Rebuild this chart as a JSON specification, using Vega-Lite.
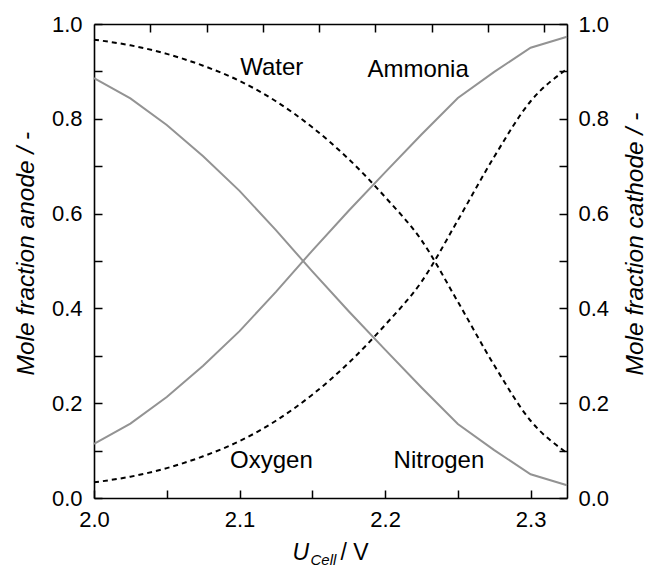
{
  "$schema": "https://vega.github.io/schema/vega-lite/v6.json",
  "width": 473,
  "height": 474,
  "autosize": {"type": "none"},
  "padding": {"left": 94, "top": 24, "right": 79, "bottom": 68},
  "background": "white",
  "config": {
    "view": {"stroke": null},
    "font": "Liberation Sans",
    "axis": {
      "domainColor": "black",
      "domainWidth": 1.6,
      "tickColor": "black",
      "tickWidth": 1.5,
      "tickSize": -8,
      "labelFont": "Liberation Sans",
      "labelFontSize": 22,
      "labelColor": "black",
      "labelFlush": false,
      "labelOverlap": false,
      "titleFont": "Liberation Sans",
      "titleColor": "black",
      "titleFontWeight": "normal",
      "grid": false
    }
  },
  "datasets": {
    "solid": [
      {"x": 2.0, "y": 0.114, "s": "Ammonia"},
      {"x": 2.025, "y": 0.157, "s": "Ammonia"},
      {"x": 2.05, "y": 0.213, "s": "Ammonia"},
      {"x": 2.075, "y": 0.279, "s": "Ammonia"},
      {"x": 2.1, "y": 0.352, "s": "Ammonia"},
      {"x": 2.125, "y": 0.435, "s": "Ammonia"},
      {"x": 2.15, "y": 0.522, "s": "Ammonia"},
      {"x": 2.175, "y": 0.606, "s": "Ammonia"},
      {"x": 2.2, "y": 0.687, "s": "Ammonia"},
      {"x": 2.225, "y": 0.767, "s": "Ammonia"},
      {"x": 2.25, "y": 0.844, "s": "Ammonia"},
      {"x": 2.275, "y": 0.899, "s": "Ammonia"},
      {"x": 2.3, "y": 0.95, "s": "Ammonia"},
      {"x": 2.325, "y": 0.973, "s": "Ammonia"},
      {"x": 2.0, "y": 0.886, "s": "Nitrogen"},
      {"x": 2.025, "y": 0.843, "s": "Nitrogen"},
      {"x": 2.05, "y": 0.787, "s": "Nitrogen"},
      {"x": 2.075, "y": 0.721, "s": "Nitrogen"},
      {"x": 2.1, "y": 0.648, "s": "Nitrogen"},
      {"x": 2.125, "y": 0.565, "s": "Nitrogen"},
      {"x": 2.15, "y": 0.478, "s": "Nitrogen"},
      {"x": 2.175, "y": 0.394, "s": "Nitrogen"},
      {"x": 2.2, "y": 0.313, "s": "Nitrogen"},
      {"x": 2.225, "y": 0.233, "s": "Nitrogen"},
      {"x": 2.25, "y": 0.156, "s": "Nitrogen"},
      {"x": 2.275, "y": 0.101, "s": "Nitrogen"},
      {"x": 2.3, "y": 0.05, "s": "Nitrogen"},
      {"x": 2.325, "y": 0.027, "s": "Nitrogen"}
    ],
    "dashed": [
      {"x": 2.0, "y": 0.967, "s": "Water"},
      {"x": 2.025, "y": 0.955, "s": "Water"},
      {"x": 2.05, "y": 0.937, "s": "Water"},
      {"x": 2.075, "y": 0.912, "s": "Water"},
      {"x": 2.1, "y": 0.88, "s": "Water"},
      {"x": 2.125, "y": 0.837, "s": "Water"},
      {"x": 2.15, "y": 0.782, "s": "Water"},
      {"x": 2.175, "y": 0.715, "s": "Water"},
      {"x": 2.2, "y": 0.635, "s": "Water"},
      {"x": 2.225, "y": 0.544, "s": "Water"},
      {"x": 2.25, "y": 0.414, "s": "Water"},
      {"x": 2.275, "y": 0.28, "s": "Water"},
      {"x": 2.3, "y": 0.163, "s": "Water"},
      {"x": 2.325, "y": 0.095, "s": "Water"},
      {"x": 2.0, "y": 0.033, "s": "Oxygen"},
      {"x": 2.025, "y": 0.045, "s": "Oxygen"},
      {"x": 2.05, "y": 0.063, "s": "Oxygen"},
      {"x": 2.075, "y": 0.088, "s": "Oxygen"},
      {"x": 2.1, "y": 0.12, "s": "Oxygen"},
      {"x": 2.125, "y": 0.163, "s": "Oxygen"},
      {"x": 2.15, "y": 0.218, "s": "Oxygen"},
      {"x": 2.175, "y": 0.285, "s": "Oxygen"},
      {"x": 2.2, "y": 0.365, "s": "Oxygen"},
      {"x": 2.225, "y": 0.456, "s": "Oxygen"},
      {"x": 2.25, "y": 0.586, "s": "Oxygen"},
      {"x": 2.275, "y": 0.72, "s": "Oxygen"},
      {"x": 2.3, "y": 0.837, "s": "Oxygen"},
      {"x": 2.325, "y": 0.905, "s": "Oxygen"}
    ],
    "labelsTop": [
      {"x": 2.1221, "y": 0.8925, "t": "Water"},
      {"x": 2.2227, "y": 0.889, "t": "Ammonia"}
    ],
    "labelsBottom": [
      {"x": 2.1219, "y": 0.0636, "t": "Oxygen"},
      {"x": 2.237, "y": 0.0636, "t": "Nitrogen"}
    ]
  },
  "layer": [
    {
      "data": {"name": "solid"},
      "mark": {"type": "line", "color": "#939393", "strokeWidth": 2},
      "encoding": {
        "x": {
          "field": "x", "type": "quantitative",
          "scale": {"domain": [2.0, 2.325], "nice": false, "zero": false},
          "axis": {
            "orient": "bottom",
            "values": [2.0, 2.05, 2.1, 2.15, 2.2, 2.25, 2.3],
            "labelExpr": "abs(datum.value*10 - round(datum.value*10)) < 0.001 ? format(datum.value, '.1f') : ''",
            "labelPadding": 19,
            "title": "U",
            "titleFontStyle": "italic",
            "titleFontSize": 23,
            "titleAlign": "left",
            "titleBaseline": "alphabetic",
            "titleX": 198,
            "titleY": 61
          }
        },
        "y": {
          "field": "y", "type": "quantitative",
          "scale": {"domain": [0, 1], "nice": false},
          "axis": {
            "orient": "left",
            "values": [0, 0.1, 0.2, 0.3, 0.4, 0.5, 0.6, 0.7, 0.8, 0.9, 1.0],
            "labelExpr": "round(datum.value*10) % 2 == 0 ? format(datum.value, '.1f') : ''",
            "labelPadding": 20,
            "title": "Mole fraction anode / -",
            "titleFontStyle": "italic",
            "titleFontSize": 24.5,
            "titleAngle": -90,
            "titleAlign": "left",
            "titleBaseline": "alphabetic",
            "titleX": -61,
            "titleY": 351
          }
        },
        "detail": {"field": "s", "type": "nominal"}
      }
    },
    {
      "data": {"name": "dashed"},
      "mark": {"type": "line", "color": "black", "strokeWidth": 2, "strokeDash": [5, 4], "interpolate": "monotone"},
      "encoding": {
        "x": {
          "field": "x", "type": "quantitative",
          "scale": {"domain": [2.0, 2.325], "nice": false, "zero": false},
          "axis": {
            "orient": "top",
            "values": [2.0387, 2.0773, 2.116, 2.1546, 2.1933, 2.232, 2.2706, 2.3093],
            "labels": false,
            "title": null
          }
        },
        "y": {
          "field": "y", "type": "quantitative",
          "scale": {"domain": [0, 1], "nice": false},
          "axis": {
            "orient": "right",
            "values": [0, 0.1, 0.2, 0.3, 0.4, 0.5, 0.6, 0.7, 0.8, 0.9, 1.0],
            "labelExpr": "round(datum.value*10) % 2 == 0 ? format(datum.value, '.1f') : ''",
            "labelPadding": 19,
            "title": "Mole fraction cathode / -",
            "titleFontStyle": "italic",
            "titleFontSize": 24.5,
            "titleAngle": -90,
            "titleAlign": "left",
            "titleBaseline": "alphabetic",
            "titleX": 75,
            "titleY": 351
          }
        },
        "detail": {"field": "s", "type": "nominal"}
      }
    },
    {
      "data": {"name": "labelsTop"},
      "mark": {"type": "text", "fontSize": 24, "align": "center", "baseline": "alphabetic", "color": "black", "font": "Liberation Sans"},
      "encoding": {
        "x": {
          "field": "x", "type": "quantitative",
          "scale": {"domain": [2.0, 2.325], "nice": false, "zero": false},
          "axis": {
            "orient": "bottom",
            "domain": false, "ticks": false, "labels": false,
            "title": "Cell",
            "titleFontStyle": "italic",
            "titleFontSize": 15,
            "titleAlign": "left",
            "titleBaseline": "alphabetic",
            "titleX": 216,
            "titleY": 66
          }
        },
        "y": {"field": "y", "type": "quantitative", "scale": {"domain": [0, 1], "nice": false}, "axis": null},
        "text": {"field": "t", "type": "nominal"}
      }
    },
    {
      "data": {"name": "labelsBottom"},
      "mark": {"type": "text", "fontSize": 24, "align": "center", "baseline": "alphabetic", "color": "black", "font": "Liberation Sans"},
      "encoding": {
        "x": {
          "field": "x", "type": "quantitative",
          "scale": {"domain": [2.0, 2.325], "nice": false, "zero": false},
          "axis": {
            "orient": "bottom",
            "domain": false, "ticks": false, "labels": false,
            "title": "/ V",
            "titleFontSize": 23,
            "titleAlign": "left",
            "titleBaseline": "alphabetic",
            "titleX": 246,
            "titleY": 61
          }
        },
        "y": {"field": "y", "type": "quantitative", "scale": {"domain": [0, 1], "nice": false}, "axis": null},
        "text": {"field": "t", "type": "nominal"}
      }
    }
  ],
  "resolve": {"axis": {"x": "independent", "y": "independent"}}
}
